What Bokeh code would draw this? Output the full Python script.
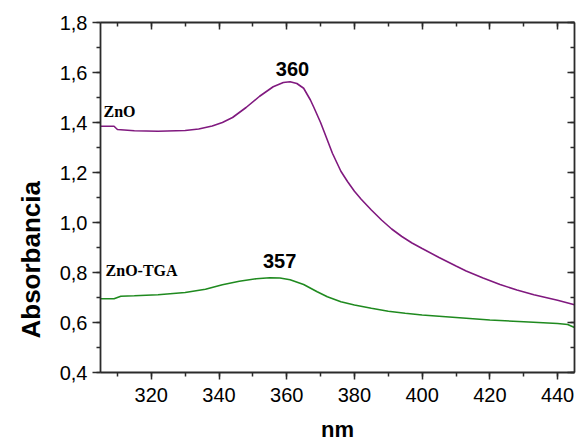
from bokeh.plotting import figure
from bokeh.models import (Range1d, LinearAxis, SingleIntervalTicker, CustomJSTickFormatter,
                          Label, Title)
from bokeh.embed import file_html
from bokeh.resources import INLINE

# ---- data ----
zno_nm = [305, 309, 310, 315, 322, 330, 334, 338, 341, 344, 348, 352, 356, 359, 361, 363,
          365, 367, 368, 370, 371, 373.5, 376, 378, 380, 382, 385, 388, 391, 394, 397, 400,
          405, 410, 413, 418, 423, 428, 433, 440, 445]
zno_abs = [1.385, 1.385, 1.372, 1.367, 1.365, 1.368, 1.374, 1.386, 1.400, 1.420, 1.460,
           1.505, 1.543, 1.560, 1.563, 1.556, 1.537, 1.490, 1.461, 1.400, 1.365, 1.277,
           1.205, 1.163, 1.125, 1.093, 1.050, 1.010, 0.974, 0.944, 0.918, 0.896, 0.860,
           0.826, 0.806, 0.778, 0.752, 0.730, 0.711, 0.689, 0.671]

tga_nm = [305, 309, 311, 315, 322, 330, 336, 341, 346, 351, 355, 358, 361, 365, 369, 372,
          376, 380, 385, 390, 395, 400, 410, 420, 430, 440, 443, 445]
tga_abs = [0.695, 0.695, 0.705, 0.707, 0.711, 0.720, 0.733, 0.751, 0.765, 0.775, 0.779,
           0.778, 0.771, 0.752, 0.723, 0.703, 0.683, 0.670, 0.657, 0.645, 0.637, 0.630,
           0.620, 0.610, 0.603, 0.596, 0.592, 0.580]

series_names = ["ZnO", "ZnO-TGA"]
peak_labels = ["360", "357"]
x_title = "nm"
y_title = "Absorbancia"

PURPLE = "#80197f"
GREEN = "#1f8a1f"
AXC = "#2b2b2b"

p = figure(width=577, height=444, output_backend="svg", toolbar_location=None,
           x_range=Range1d(305, 445), y_range=Range1d(0.4, 1.8),
           min_border_left=100, min_border_right=3, min_border_top=22, min_border_bottom=71)
p.background_fill_color = "white"
p.border_fill_color = "white"
p.outline_line_color = None
p.xgrid.visible = False
p.ygrid.visible = False

p.line(zno_nm, zno_abs, line_color=PURPLE, line_width=1.6)
p.line(tga_nm, tga_abs, line_color=GREEN, line_width=1.6)

xt = SingleIntervalTicker(interval=20, num_minor_ticks=2)
yt = SingleIntervalTicker(interval=0.2, num_minor_ticks=2)
yfmt = CustomJSTickFormatter(code="return tick.toFixed(1).replace('.', ',');")
blank = CustomJSTickFormatter(code="return '';")


def style(ax):
    ax.axis_line_color = AXC
    ax.axis_line_width = 1.8
    ax.major_tick_line_color = AXC
    ax.minor_tick_line_color = AXC
    ax.major_tick_line_width = 1.5
    ax.minor_tick_line_width = 1.5
    ax.major_label_text_font = "Liberation Sans"
    ax.major_label_text_font_size = "20px"
    ax.major_label_text_color = "black"
    ax.axis_label_text_font = "Liberation Sans"
    ax.axis_label_text_font_size = "22px"
    ax.axis_label_text_font_style = "bold"
    ax.axis_label_text_color = "black"


xa = p.xaxis[0]
xa.ticker = xt
style(xa)
xa.major_tick_out = 7
xa.major_tick_in = 0
xa.minor_tick_out = 4
xa.minor_tick_in = 0
xa.major_label_standoff = 8
xa.axis_label = x_title
xa.axis_label_standoff = 12

ya = p.yaxis[0]
ya.ticker = yt
ya.formatter = yfmt
style(ya)
ya.major_tick_out = 8
ya.major_tick_in = 0
ya.minor_tick_out = 4
ya.minor_tick_in = 0
ya.major_label_standoff = 5

top = LinearAxis(ticker=xt, formatter=blank)
style(top)
top.major_tick_in = 7
top.major_tick_out = 0
top.minor_tick_in = 4
top.minor_tick_out = 0
top.major_label_standoff = 0
p.add_layout(top, "above")

right = LinearAxis(ticker=yt, formatter=blank)
style(right)
right.major_tick_in = 7
right.major_tick_out = 0
right.minor_tick_in = 4
right.minor_tick_out = 0
right.major_label_standoff = 0
p.add_layout(right, "right")

# y axis title, set a little below the frame centre as in the reference
p.add_layout(Title(text=y_title, align="left", offset=34, standoff=21,
                   text_font="Liberation Sans", text_font_style="bold",
                   text_font_size="26px", text_color="black"), "left")

# peak labels
p.add_layout(Label(x=361.7, y=1.585, text=peak_labels[0], text_align="center",
                   text_baseline="bottom", text_font="Liberation Sans",
                   text_font_style="bold", text_font_size="20px", text_color="black"))
p.add_layout(Label(x=357.9, y=0.819, text=peak_labels[1], text_align="center",
                   text_baseline="bottom", text_font="Liberation Sans",
                   text_font_style="bold", text_font_size="20px", text_color="black"))
# series labels
p.add_layout(Label(x=305.9, y=1.409, text=series_names[0], text_align="left",
                   text_baseline="bottom", text_font="Liberation Serif",
                   text_font_style="bold", text_font_size="16px", text_color="black"))
p.add_layout(Label(x=306.5, y=0.775, text=series_names[1], text_align="left",
                   text_baseline="bottom", text_font="Liberation Serif",
                   text_font_style="bold", text_font_size="16px", text_color="black"))

open("out.html", "w").write(file_html(p, INLINE))
